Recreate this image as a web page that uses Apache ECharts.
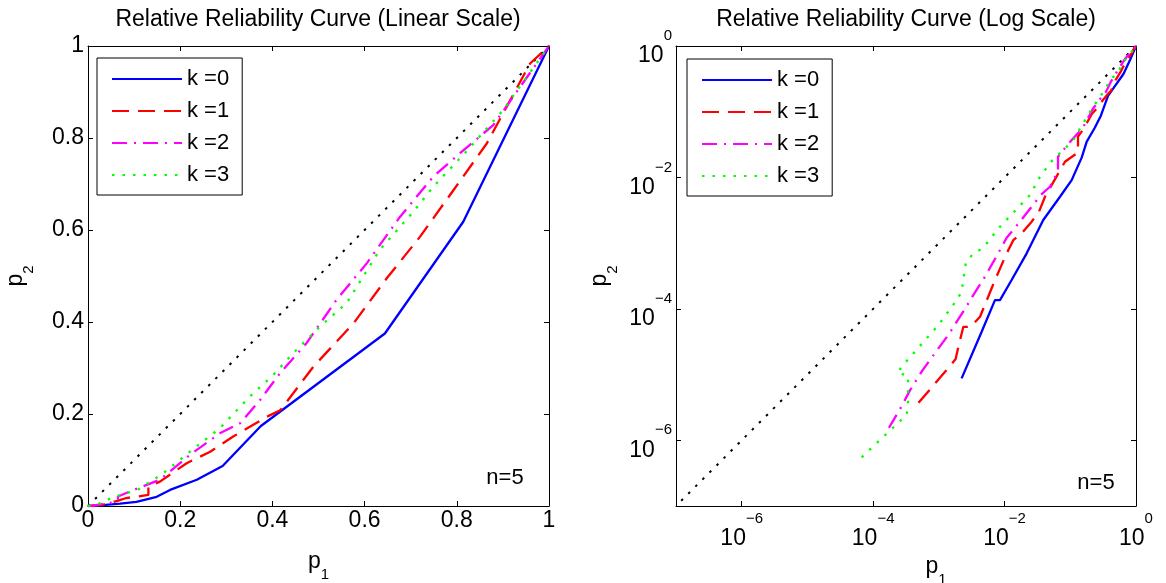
<!DOCTYPE html>
<html>
<head>
<meta charset="utf-8">
<script src="https://cdn.jsdelivr.net/npm/echarts@6/dist/echarts.min.js"></script>
<style>
  html, body { margin: 0; padding: 0; background: #fff; }
  #chart { width: 1166px; height: 583px; }
</style>
</head>
<body>
<div id="chart"></div>
<script>
// curve data (p1, p2), same values in both panels; zeros are dropped on the log panel
const diagP1 = [0, 1.2e-7, 1]
const diagP2 = [0, 1.2e-7, 1]

const p1K0 = [0, 0.00222, 0.00448, 0.00714, 0.00851, 0.0128, 0.0217, 0.0388, 0.0697, 0.105, 0.149, 0.178, 0.236, 0.292, 0.375, 0.644, 0.814, 1]
const p2K0 = [0, 8.75e-6, 4.48e-5, 1.36e-4, 1.36e-4, 2.75e-4, 7.0e-4, 2.25e-3, 5.08e-3, 9.1e-3, 0.020, 0.035, 0.057, 0.087, 0.174, 0.375, 0.618, 1]

const p1K1 = [0, 4.9e-4, 1.28e-3, 1.80e-3, 1.98e-3, 2.36e-3, 3.05e-3, 4.23e-3, 7.14e-3, 0.01076, 0.01358, 0.0182, 0.0258, 0.0334, 0.0412, 0.0658, 0.083, 0.131, 0.131, 0.156, 0.214, 0.265, 0.315, 0.388, 0.417, 0.489, 0.576, 0.648, 0.72, 0.793, 0.865, 0.959, 1]
const p2K1 = [0, 3.72e-6, 1.14e-5, 1.72e-5, 2.65e-5, 5.33e-5, 5.33e-5, 7.59e-5, 2.74e-4, 7.0e-4, 1.11e-3, 1.41e-3, 2.12e-3, 3.0e-3, 5.08e-3, 0.01153, 0.01734, 0.024, 0.042, 0.053, 0.093, 0.118, 0.151, 0.194, 0.208, 0.303, 0.397, 0.495, 0.585, 0.687, 0.788, 0.962, 1]

const p1K2 = [0, 1.74e-4, 2.65e-4, 3.63e-4, 5.66e-4, 9.25e-4, 1.39e-3, 2.65e-3, 3.34e-3, 5.04e-3, 8.51e-3, 0.01076, 0.01714, 0.02296, 0.0355, 0.0491, 0.065, 0.065, 0.105, 0.156, 0.221, 0.286, 0.330, 0.373, 0.416, 0.474, 0.539, 0.605, 0.677, 0.749, 0.807, 0.879, 1]
const p2K2 = [0, 1.55e-6, 3.16e-6, 5.75e-6, 1.17e-5, 2.30e-5, 3.99e-5, 1.10e-4, 1.62e-4, 3.09e-4, 7.85e-4, 1.21e-3, 2.12e-3, 3.08e-3, 5.40e-3, 7.21e-3, 0.0126, 0.0207, 0.0372, 0.057, 0.111, 0.158, 0.180, 0.230, 0.288, 0.354, 0.448, 0.528, 0.629, 0.716, 0.767, 0.828, 1]

const p1K3 = [0, 6.68e-5, 3.24e-4, 3.39e-4, 3.39e-4, 2.34e-4, 2.88e-4, 9.77e-4, 1.86e-3, 2.22e-3, 2.57e-3, 3.34e-3, 4.65e-3, 8.51e-3, 0.0244, 0.0346, 0.0552, 0.0783, 0.111, 0.163, 0.221, 0.286, 0.351, 0.402, 0.445, 0.503, 0.561, 0.633, 0.706, 0.749, 0.82, 0.9, 1]
const p2K3 = [0, 5.5e-7, 2.45e-6, 3.47e-6, 9.55e-6, 1.07e-5, 1.41e-5, 5.62e-5, 1.35e-4, 1.82e-4, 5.0e-4, 7.0e-4, 8.34e-4, 1.78e-3, 5.40e-3, 0.01026, 0.0191, 0.0261, 0.0371, 0.071, 0.118, 0.169, 0.238, 0.285, 0.332, 0.390, 0.441, 0.557, 0.640, 0.694, 0.77, 0.86, 1]

// tick values of the log panel (every second decade)
const logTicks = [1e-6, 1e-4, 1e-2, 1]

const seriesNames = ['k =0', 'k =1', 'k =2', 'k =3']
const titles = ['Relative Reliability Curve (Linear Scale)', 'Relative Reliability Curve (Log Scale)']
const noteText = 'n=5'

const FONT = 'Liberation Sans, Arial, Helvetica, sans-serif'
const chart = echarts.init(document.getElementById('chart'))

const curves = [
  { p1: p1K0, p2: p2K0, color: '#0000ff', type: 'solid' },
  { p1: p1K1, p2: p2K1, color: '#ff0000', type: [17, 9] },
  { p1: p1K2, p2: p2K2, color: '#ff00ff', type: [15, 7, 2, 7] },
  { p1: p1K3, p2: p2K3, color: '#00ff00', type: [2.5, 8] }
]

const toPoints = (p1, p2, isLog) => {
  const out = []
  for (let i = 0; i < p1.length; i++) {
    if (isLog && (p1[i] <= 0 || p2[i] <= 0)) continue
    out.push([p1[i], p2[i]])
  }
  return out
}

const lineBase = {
  type: 'line',
  symbol: 'none',
  showSymbol: false,
  animation: false,
  silent: true
}

const series = []
;[0, 1].forEach(g => {
  const isLog = g === 1
  const ax = g * 2
  series.push({
    ...lineBase,
    name: 'diag',
    xAxisIndex: ax, yAxisIndex: ax,
    data: toPoints(diagP1, diagP2, isLog),
    lineStyle: { color: '#000', width: 2, type: [2.5, 7.5] }
  })
  curves.forEach((c, i) => {
    series.push({
      ...lineBase,
      name: seriesNames[i],
      xAxisIndex: ax, yAxisIndex: ax,
      data: toPoints(c.p1, c.p2, isLog),
      itemStyle: { color: c.color },
      lineStyle: { color: c.color, width: 2.3, type: c.type }
    })
  })
})

const logLabel = v => {
  const e = Math.round(Math.log10(v))
  return '{b|10}{s|' + (e < 0 ? '\u2212' + (-e) : e) + '}'
}
// base digits sit low in a tall line, exponent at the top of it
const supRich = {
  b: { fontSize: 23, fontFamily: FONT, color: '#000', lineHeight: 43, padding: [20, 0, 0, 0], verticalAlign: 'bottom' },
  s: { fontSize: 15, fontFamily: FONT, color: '#000', lineHeight: 19, padding: [4, 0, 0, 0], verticalAlign: 'top' }
}
const nameRich = {
  p: { fontSize: 23, fontFamily: FONT, color: '#000', lineHeight: 32, padding: [0, 0, 9, 0], verticalAlign: 'top' },
  s: { fontSize: 15, fontFamily: FONT, color: '#000', lineHeight: 15, verticalAlign: 'bottom' }
}

const axisLine = { show: true, onZero: false, lineStyle: { color: '#000', width: 1 } }
const tick = { show: true, inside: true, length: 5, lineStyle: { color: '#000', width: 1 } }
const labelStyle = { fontSize: 23, fontFamily: FONT, color: '#000' }

const linX = (pos, show) => ({
  type: 'value', gridIndex: 0, position: pos, min: 0, max: 1, interval: 0.2,
  axisLine, axisTick: tick, splitLine: { show: false },
  axisLabel: { show, margin: 3, ...labelStyle },
  name: show ? '{p|p}{s|1}' : '', nameLocation: 'middle', nameGap: 44,
  nameTextStyle: { rich: nameRich }
})
const linY = (pos, show) => ({
  type: 'value', gridIndex: 0, position: pos, min: 0, max: 1, interval: 0.2,
  axisLine, axisTick: tick, splitLine: { show: false },
  axisLabel: { show, margin: 4, ...labelStyle },
  name: show ? '{p|p}{s|2}' : '', nameLocation: 'middle', nameGap: 52,
  nameTextStyle: { rich: nameRich }
})
const logX = (pos, show) => ({
  type: 'log', logBase: 10, gridIndex: 1, position: pos, min: 1e-7, max: 1,
  axisLine, splitLine: { show: false }, minorTick: { show: false },
  axisTick: { ...tick, customValues: logTicks },
  axisLabel: { show, margin: 1, customValues: logTicks, formatter: logLabel, rich: supRich },
  name: show ? '{p|p}{s|1}' : '', nameLocation: 'middle', nameGap: 44,
  nameTextStyle: { rich: nameRich, padding: [0, 0, 0, 60] }
})
const logY = (pos, show) => ({
  type: 'log', logBase: 10, gridIndex: 1, position: pos, min: 1e-7, max: 1,
  axisLine, splitLine: { show: false }, minorTick: { show: false },
  axisTick: { ...tick, customValues: logTicks },
  axisLabel: { show, margin: 4, customValues: logTicks, formatter: logLabel, rich: supRich },
  name: show ? '{p|p}{s|2}' : '', nameLocation: 'middle', nameGap: 56,
  nameTextStyle: { rich: nameRich }
})

const legendBase = {
  data: seriesNames,
  orient: 'vertical',
  itemWidth: 70,
  itemHeight: 22,
  itemGap: 10,
  padding: [10, 13, 9, 14],
  borderColor: '#000',
  borderWidth: 1,
  borderRadius: 0,
  backgroundColor: '#fff',
  selectedMode: false,
  itemStyle: { opacity: 0 },
  textStyle: { fontSize: 22, fontFamily: FONT, color: '#000' }
}

const textEl = (x, y, text, size) => ({
  type: 'text', x, y, silent: true,
  style: {
    text, fill: '#000', font: size + 'px ' + FONT,
    align: 'center', verticalAlign: 'middle', textAlign: 'center', textVerticalAlign: 'middle'
  }
})

chart.setOption({
  animation: false,
  backgroundColor: '#fff',
  grid: [
    { left: 88, top: 46, width: 461, height: 460, outerBoundsMode: 'none' },
    { left: 676, top: 46, width: 460, height: 460, outerBoundsMode: 'none' }
  ],
  xAxis: [linX('bottom', true), linX('top', false), logX('bottom', true), logX('top', false)],
  yAxis: [linY('left', true), linY('right', false), logY('left', true), logY('right', false)],
  legend: [
    { ...legendBase, left: 97, top: 58 },
    { ...legendBase, left: 687, top: 59 }
  ],
  graphic: [
    textEl(318, 20, titles[0], 23),
    textEl(906, 20, titles[1], 23),
    textEl(505, 478, noteText, 22),
    textEl(1096, 483, noteText, 22)
  ],
  series
})
window.addEventListener('resize', chart.resize)
</script>
</body>
</html>
